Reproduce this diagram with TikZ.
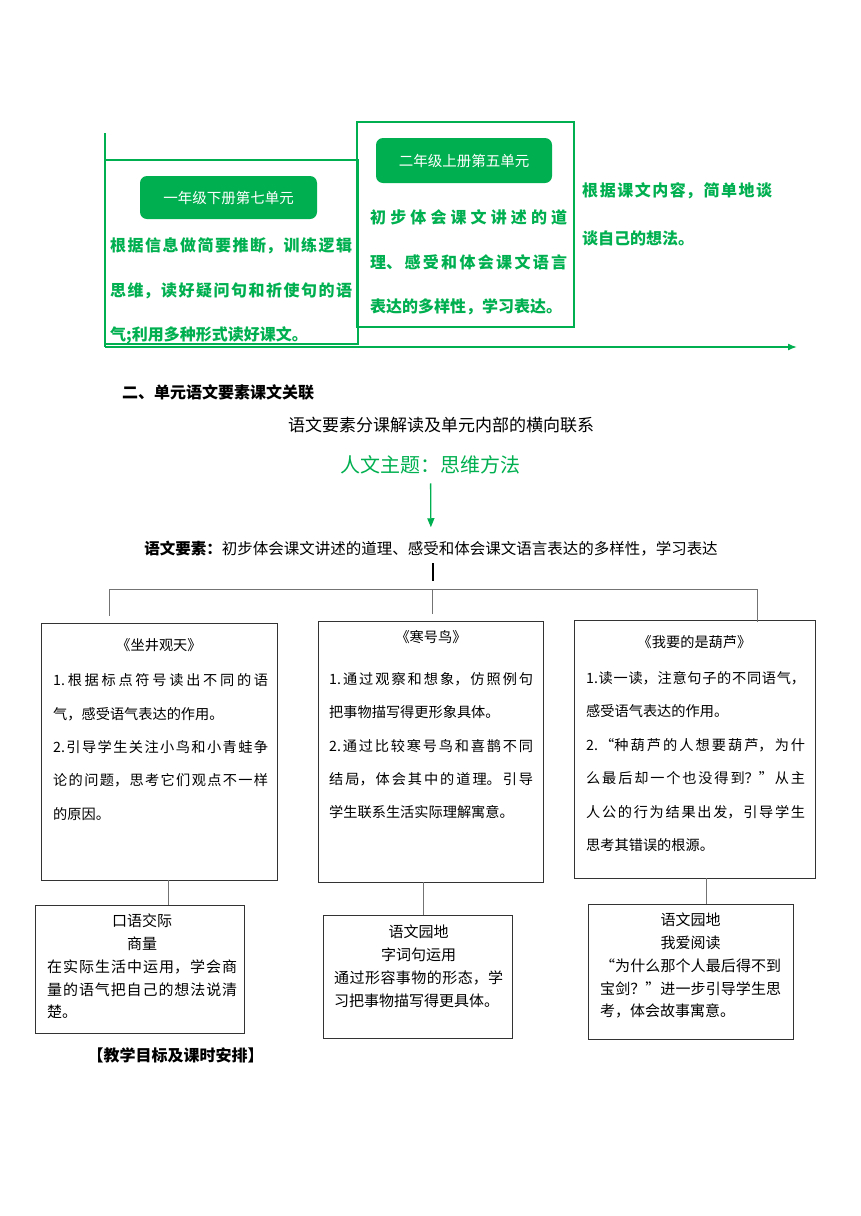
\documentclass[tikz,border=0pt]{standalone}
\usepackage{fontspec}
\setmainfont{Noto Sans CJK SC}
\usetikzlibrary{arrows.meta}
\definecolor{leafgreen}{RGB}{0,176,80}
\XeTeXlinebreaklocale "zh"
\XeTeXlinebreakskip=0pt plus 6pt
\newcommand{\sizeat}[2]{\fontsize{#1}{#2}\selectfont}

\tikzset{
    gline/.style={draw=leafgreen, line width=1.5pt},
    unitbox/.style={draw=leafgreen, line width=1.3pt, inner sep=0pt},
    unittag/.style={fill=leafgreen, rounded corners=7pt, text=white,
        font=\sizeat{14.5}{17}, inner sep=0pt},
    goal/.style={text=leafgreen, font=\bfseries\sizeat{16}{44.5},
        anchor=north west, inner sep=0pt, align=justify},
    card/.style={draw=black!80, line width=0.9pt, inner sep=0pt},
    cardtext/.style={anchor=north west, inner sep=0pt, align=justify,
        font=\sizeat{14.2}{33.4}},
    subtext/.style={anchor=north west, inner sep=0pt, align=justify,
        font=\sizeat{15}{22.7}},
    link/.style={draw=black!55, line width=0.9pt},
}

\begin{document}
\begin{tikzpicture}[x=1pt,y=-1pt]
    \path[fill=white, use as bounding box] (0,0) rectangle (860,1216);

    % units along the line
    \coordinate (axtop) at (105,133);
    \coordinate (axcorner) at (105,347);
    \coordinate (axend) at (797,347);

    \node[unitbox, minimum width=253pt, minimum height=184pt] (unitA) at (231.5,252) {};
    \node[unitbox, minimum width=217pt, minimum height=205pt] (unitB) at (465.5,224.5) {};

    \draw[gline] (axtop) -- (axcorner);
    \draw[gline, -{Latex[length=9pt,width=7pt]}] (axcorner) -- (axend);

    \node[unittag, minimum width=177pt, minimum height=43pt] (tagA) at (228.5,197.5) {一年级下册第七单元};
    \node[unittag, minimum width=176pt, minimum height=45pt] (tagB) at (464,160.5) {二年级上册第五单元};

    \node[goal, text width=242pt] (goalA) at (110,237.5)
        {根据信息做简要推断，训练逻辑\linebreak 思维，读好疑问句和祈使句的语\linebreak 气;利用多种形式读好课文。};
    \node[goal, text width=197pt] (goalB) at (370,209.5)
        {初步体会课文讲述的道\linebreak 理、感受和体会课文语言\linebreak 表达的多样性，学习表达。};
    \node[goal, text width=190pt, font=\bfseries\sizeat{16}{48}] (goalC) at (582,182.5)
        {根据课文内容，简单地谈\linebreak 谈自己的想法。};

    % headings
    \node[anchor=west, inner sep=0pt, font=\bfseries\sizeat{16}{16}] (sect) at (122,392) {二、单元语文要素课文关联};
    \node[inner sep=0pt, font=\sizeat{17}{17}] (caption) at (441,425) {语文要素分课解读及单元内部的横向联系};
    \node[inner sep=3pt, text=leafgreen, font=\sizeat{20}{20}] (theme) at (430.5,465) {人文主题：思维方法};
    \node[inner sep=3pt, font=\sizeat{15.5}{15.5}] (elem) at (431,549)
        {{\bfseries 语文要素：}初步体会课文讲述的道理、感受和体会课文语言表达的多样性，学习表达};

    \draw[gline, line width=1.3pt, -{Triangle[length=9pt,width=7pt]}, shorten <=6pt, shorten >=11pt] (theme) -- (elem);

    \coordinate (s0) at (433,563);
    \coordinate (s1) at (433,581);
    \draw[line width=2.6pt] (s0) -- (s1);

    % lesson cards
    \node[card, minimum width=236pt, minimum height=257pt] (cardA) at (159,751.5) {};
    \node[card, minimum width=225pt, minimum height=261pt] (cardB) at (430.5,751.5) {};
    \node[card, minimum width=241pt, minimum height=258pt] (cardC) at (694.5,749) {};
    \node[card, minimum width=209pt, minimum height=128pt] (cardD) at (139.5,969) {};
    \node[card, minimum width=189pt, minimum height=123pt] (cardE) at (417.5,976.5) {};
    \node[card, minimum width=205pt, minimum height=135pt] (cardF) at (690.5,971.5) {};

    \coordinate (busA) at (109,589);
    \coordinate (busB) at (432,589);
    \coordinate (busC) at (757,589);
    \draw[link] (busA |- cardA.north) ++(0,-7) -- (busA) -- (busC) -- ([yshift=-2pt]busC |- cardC.north);
    \draw[link, shorten >=7pt] (busB) -- (busB |- cardB.north);

    \coordinate (kA) at (168,0);
    \coordinate (kB) at (423,0);
    \coordinate (kC) at (706,0);
    \draw[link] (kA |- cardA.south) -- (kA |- cardD.north);
    \draw[link] (kB |- cardB.south) -- (kB |- cardE.north);
    \draw[link] (kC |- cardC.south) -- (kC |- cardF.north);

    \node[inner sep=0pt, font=\sizeat{14.2}{14.2}] (titleA) at (159,645) {《坐井观天》};
    \node[inner sep=0pt, font=\sizeat{14.2}{14.2}] (titleB) at (431,637) {《寒号鸟》};
    \node[inner sep=0pt, font=\sizeat{14.2}{14.2}] (titleC) at (694.5,642) {《我要的是葫芦》};

    \node[cardtext, text width=215pt] (textA) at (53,673.5)
        {1.根据标点符号读出不同的语\linebreak 气，感受语气表达的作用。\par 2.引导学生关注小鸟和小青蛙争\linebreak 论的问题，思考它们观点不一样\linebreak 的原因。};
    \node[cardtext, text width=204pt, font=\sizeat{14.2}{33.3}] (textB) at (329,672.3)
        {1.通过观察和想象，仿照例句\linebreak 把事物描写得更形象具体。\par 2.通过比较寒号鸟和喜鹊不同\linebreak 结局，体会其中的道理。引导\linebreak 学生联系生活实际理解寓意。};
    \node[cardtext, text width=219pt] (textC) at (586,671.3)
        {1.读一读，注意句子的不同语气，\linebreak 感受语气表达的作用。\par 2.“种葫芦的人想要葫芦，为什\linebreak 么最后却一个也没得到？”从主\linebreak 人公的行为结果出发，引导学生\linebreak 思考其错误的根源。};

    \node[subtext, text width=190pt] (textD) at (47,914)
        {{\centering 口语交际\\商量\par}在实际生活中运用，学会商\linebreak 量的语气把自己的想法说清\linebreak 楚。};
    \node[subtext, text width=169pt] (textE) at (334,925)
        {{\centering 语文园地\\字词句运用\par}通过形容事物的形态，学\linebreak 习把事物描写得更具体。};
    \node[subtext, text width=181pt] (textF) at (600,913)
        {{\centering 语文园地\\我爱阅读\par}“为什么那个人最后得不到\linebreak 宝剑？”进一步引导学生思\linebreak 考，体会故事寓意。};

    \node[inner sep=0pt, font=\bfseries\sizeat{16}{16}] (plan) at (175.5,1055) {【教学目标及课时安排】};
\end{tikzpicture}
\end{document}
